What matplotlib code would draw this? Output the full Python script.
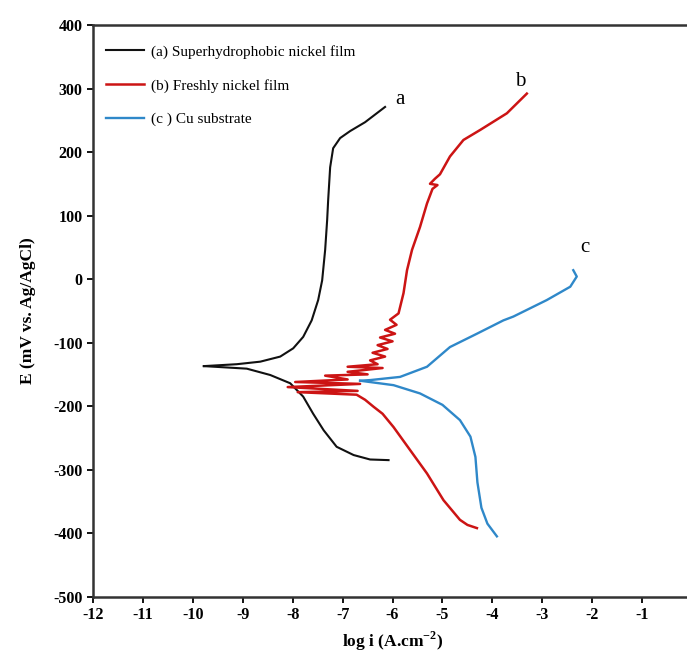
import numpy as np
import matplotlib.pyplot as plt

plt.rcParams['font.family'] = ['Liberation Serif', 'DejaVu Serif']
plt.rcParams['axes.unicode_minus'] = False
plt.rcParams['mathtext.fontset'] = 'custom'
plt.rcParams['mathtext.rm'] = 'Liberation Serif'
plt.rcParams['mathtext.bf'] = 'Liberation Serif:bold'

# (a) Superhydrophobic nickel film: anodic and cathodic branch from E_corr
a_anod_x = [-9.78, -9.12, -8.65, -8.25, -7.99, -7.79, -7.62, -7.49, -7.41, -7.35,
            -7.31, -7.29, -7.25, -7.19, -7.05, -6.85, -6.55, -6.15]
a_anod_y = [-137, -134, -130, -122, -109, -91, -65, -33, -2, 46,
            93, 124, 176, 206, 222, 233, 247, 271]
a_cath_x = [-9.78, -8.92, -8.45, -8.05, -7.79, -7.59, -7.38, -7.12, -6.78, -6.45, -6.08]
a_cath_y = [-137, -141, -151, -164, -185, -212, -238, -264, -277, -284, -285]

# (b) Freshly nickel film: noisy trace, cathodic end -> anodic end
b_x = [-4.31, -4.5, -4.65, -4.98, -5.31, -5.65, -5.98, -6.2, -6.38, -6.55, -6.72,
       -7.9, -6.7, -8.1, -6.65, -7.95, -6.9, -7.35, -6.5, -6.9, -6.2, -6.9, -6.3,
       -6.45, -6.15, -6.4, -6.1, -6.3, -6.0, -6.25, -5.95, -6.15, -5.92, -6.05,
       -5.88, -5.78, -5.71, -5.61, -5.45, -5.31, -5.2, -5.1, -5.25, -5.15, -5.05,
       -4.85, -4.58, -4.24, -3.71, -3.31]
b_y = [-392, -387, -379, -348, -306, -269, -233, -212, -201, -190, -182,
       -178, -176, -170, -165, -162, -158, -152, -150, -146, -140, -138, -134,
       -128, -122, -116, -110, -104, -98, -92, -86, -80, -72, -64,
       -54, -22, 14, 46, 82, 119, 142, 148, 150, 158, 165,
       193, 219, 235, 261, 292]

# (c) Cu substrate
c_anod_x = [-6.65, -6.45, -5.85, -5.31, -4.85, -4.31, -3.78, -3.58, -2.91, -2.44, -2.31, -2.38]
c_anod_y = [-160, -159, -154, -138, -107, -86, -65, -59, -33, -12, 4, 14]
c_cath_x = [-6.65, -5.98, -5.45, -5.0, -4.65, -4.44, -4.34, -4.30, -4.22, -4.10, -3.91]
c_cath_y = [-160, -167, -180, -198, -222, -248, -280, -320, -360, -385, -405]

labels = ['(a) Superhydrophobic nickel film', '(b) Freshly nickel film', '(c ) Cu substrate']
colors = ['#111111', '#cc1414', '#2f88c9']

fig = plt.figure(figsize=(6.87, 6.63), dpi=100)
ax = fig.add_axes([0.1354, 0.100, 0.872, 0.8623])

ax.plot(a_anod_x, a_anod_y, color=colors[0], lw=1.5, label=labels[0])
ax.plot(a_cath_x, a_cath_y, color=colors[0], lw=1.5)
ax.plot(b_x, b_y, color=colors[1], lw=1.8, label=labels[1])
ax.plot(c_anod_x, c_anod_y, color=colors[2], lw=1.7, label=labels[2])
ax.plot(c_cath_x, c_cath_y, color=colors[2], lw=1.7)

ax.text(-5.85, 283, 'a', fontsize=15, ha='center', va='center')
ax.text(-3.44, 311, 'b', fontsize=15, ha='center', va='center')
ax.text(-2.14, 50, 'c', fontsize=15, ha='center', va='center')

ax.set_xlim(-12, 0)
ax.set_ylim(-500, 400)
ax.set_xticks(range(-12, 1))
ax.set_yticks(range(-500, 401, 100))
for s in ax.spines.values():
    s.set_linewidth(1.8)
    s.set_color('#333333')
ax.tick_params(direction='out', length=4, width=1.3, labelsize=11.5)
for t in ax.get_xticklabels() + ax.get_yticklabels():
    t.set_fontweight('bold')

ax.set_xlabel('log i (A.cm$^{\\mathbf{-2}}$)', fontsize=12.5, fontweight='bold', labelpad=5)
ax.set_ylabel('E (mV vs. Ag/AgCl)', fontsize=12.5, fontweight='bold', labelpad=12)

ax.legend(loc='upper left', bbox_to_anchor=(0, 0.988), frameon=False, fontsize=11,
          handlelength=2.5, labelspacing=1.3, borderaxespad=0.55, borderpad=0.3,
          handletextpad=0.45)

fig.savefig('out.png', dpi=100)
